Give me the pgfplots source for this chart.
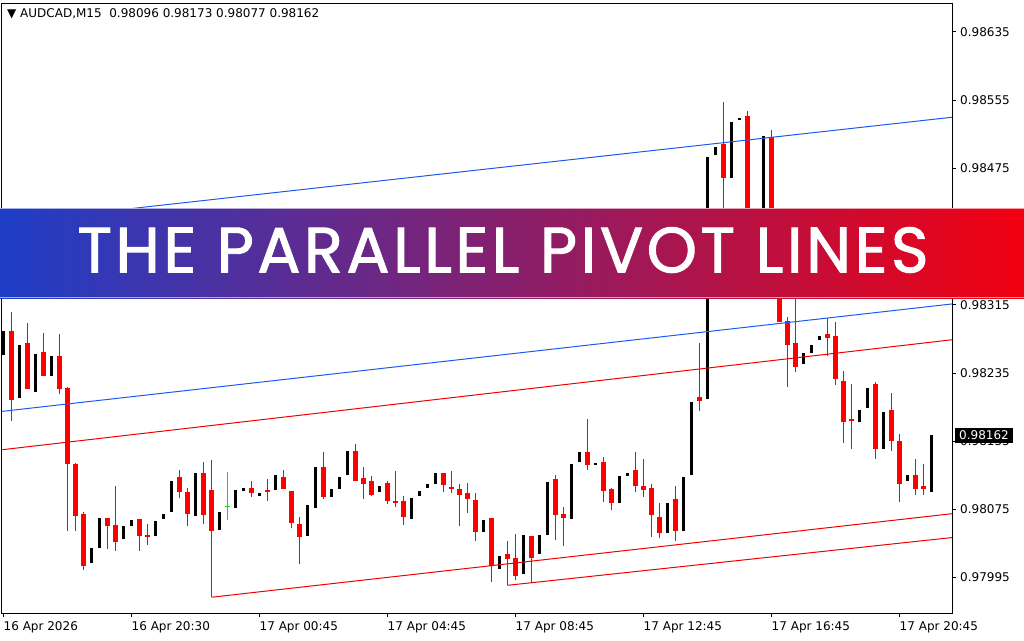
\documentclass[border=0pt]{standalone}
\usepackage{fontspec}
\setmainfont{DejaVu Sans}
\newfontfamily\bannerfont{Poppins}[UprightFeatures={FakeBold=1.5}, LetterSpace=5.5]
\usepackage{pgfplots}
\pgfplotsset{compat=1.18}
\usepackage{pgfplotstable}

\definecolor{bearred}{RGB}{255,0,0}
\definecolor{dojigreen}{RGB}{0,230,0}
\definecolor{pivblue}{RGB}{30,90,240}
\definecolor{pivred}{RGB}{240,0,0}
\definecolor{bannerL}{RGB}{30,62,200}
\definecolor{bannerR}{RGB}{242,0,16}

% AUDCAD M15, bar index i: open high low close
\pgfplotstableread{
i   o       h       l       c
0   0.98256 0.98284 0.98256 0.98284
2   0.98206 0.98268 0.98206 0.98268
4   0.98213 0.98257 0.98213 0.98257
6   0.98231 0.98255 0.98231 0.98255
11  0.98012 0.98030 0.98012 0.98030
12  0.98030 0.98065 0.98030 0.98065
15  0.98040 0.98056 0.98040 0.98056
16  0.98056 0.98063 0.98056 0.98063
19  0.98044 0.98061 0.98044 0.98061
20  0.98064 0.98070 0.98064 0.98070
21  0.98072 0.98108 0.98072 0.98108
24  0.98067 0.98118 0.98067 0.98118
27  0.98051 0.98072 0.98051 0.98072
29  0.98077 0.98098 0.98077 0.98098
30  0.98097 0.98100 0.98097 0.98100
32  0.98091 0.98094 0.98091 0.98094
34  0.98098 0.98115 0.98098 0.98115
38  0.98044 0.98080 0.98044 0.98080
39  0.98077 0.98125 0.98077 0.98125
41  0.98090 0.98099 0.98090 0.98099
42  0.98099 0.98113 0.98099 0.98113
43  0.98115 0.98144 0.98115 0.98144
47  0.98095 0.98102 0.98095 0.98102
51  0.98064 0.98088 0.98064 0.98088
52  0.98091 0.98097 0.98091 0.98097
53  0.98100 0.98105 0.98100 0.98105
54  0.98105 0.98118 0.98105 0.98118
60  0.98048 0.98063 0.98048 0.98063
62  0.98005 0.98020 0.98005 0.98020
65  0.97999 0.98045 0.97999 0.98045
67  0.98023 0.98045 0.98023 0.98045
68  0.98045 0.98107 0.98045 0.98107
71  0.98064 0.98128 0.98064 0.98128
72  0.98131 0.98142 0.98131 0.98142
74  0.98127 0.98129 0.98127 0.98129
77  0.98082 0.98114 0.98082 0.98114
78  0.98114 0.98118 0.98114 0.98118
83  0.98047 0.98082 0.98047 0.98082
85  0.98050 0.98113 0.98050 0.98113
86  0.98115 0.98201 0.98115 0.98201
88  0.98204 0.98488 0.98204 0.98488
89  0.98491 0.98500 0.98491 0.98500
91  0.98464 0.98529 0.98464 0.98529
92  0.98532 0.98534 0.98532 0.98534
94  0.98379 0.98400 0.98365 0.98391
95  0.98365 0.98513 0.98365 0.98513
100 0.98246 0.98258 0.98246 0.98258
101 0.98258 0.98268 0.98258 0.98268
102 0.98274 0.98278 0.98274 0.98278
107 0.98177 0.98192 0.98177 0.98192
108 0.98194 0.98217 0.98194 0.98217
110 0.98146 0.98189 0.98146 0.98189
113 0.98108 0.98115 0.98108 0.98115
116 0.98096 0.98173 0.98077 0.98162
}\bulls

\pgfplotstableread{
i   o       h       l       c
1   0.98284 0.98307 0.98179 0.98203
3   0.98270 0.98294 0.98216 0.98216
5   0.98260 0.98282 0.98231 0.98231
7   0.98255 0.98281 0.98210 0.98216
8   0.98217 0.98219 0.98050 0.98128
9   0.98128 0.98129 0.98050 0.98067
10  0.98070 0.98072 0.98004 0.98009
13  0.98065 0.98065 0.98029 0.98056
14  0.98057 0.98102 0.98026 0.98037
17  0.98064 0.98064 0.98026 0.98044
18  0.98045 0.98058 0.98033 0.98043
22  0.98113 0.98121 0.98088 0.98095
23  0.98095 0.98100 0.98056 0.98070
25  0.98118 0.98131 0.98058 0.98068
26  0.98098 0.98133 0.97972 0.98050
31  0.98100 0.98108 0.98090 0.98094
33  0.98098 0.98111 0.98085 0.98095
35  0.98113 0.98121 0.98099 0.98099
36  0.98097 0.98097 0.98053 0.98059
37  0.98058 0.98066 0.98011 0.98043
40  0.98125 0.98142 0.98087 0.98090
44  0.98144 0.98152 0.98108 0.98108
45  0.98112 0.98125 0.98087 0.98105
46  0.98108 0.98114 0.98091 0.98092
48  0.98106 0.98108 0.98081 0.98085
49  0.98085 0.98120 0.98078 0.98083
50  0.98085 0.98091 0.98057 0.98066
55  0.98118 0.98118 0.98095 0.98104
56  0.98101 0.98120 0.98094 0.98099
57  0.98099 0.98105 0.98056 0.98092
58  0.98094 0.98106 0.98071 0.98087
59  0.98086 0.98094 0.98038 0.98048
61  0.98065 0.98065 0.97990 0.98009
63  0.98023 0.98038 0.97986 0.98017
64  0.98018 0.98046 0.97992 0.97997
66  0.98044 0.98044 0.97989 0.98018
69  0.98111 0.98115 0.98039 0.98068
70  0.98070 0.98078 0.98032 0.98065
73  0.98142 0.98181 0.98121 0.98127
75  0.98131 0.98136 0.98084 0.98097
76  0.98099 0.98100 0.98074 0.98082
79  0.98121 0.98142 0.98095 0.98102
80  0.98102 0.98134 0.98090 0.98098
81  0.98100 0.98105 0.98043 0.98068
82  0.98066 0.98082 0.98041 0.98047
84  0.98087 0.98102 0.98038 0.98050
87  0.98207 0.98270 0.98190 0.98202
90  0.98504 0.98553 0.98414 0.98464
93  0.98536 0.98542 0.98370 0.98379
96  0.98512 0.98520 0.98335 0.98342
97  0.98344 0.98350 0.98295 0.98295
98  0.98296 0.98301 0.98219 0.98268
99  0.98270 0.98344 0.98236 0.98242
103 0.98281 0.98300 0.98255 0.98276
104 0.98278 0.98295 0.98221 0.98228
105 0.98226 0.98237 0.98153 0.98178
106 0.98181 0.98222 0.98146 0.98179
109 0.98222 0.98224 0.98134 0.98146
111 0.98192 0.98211 0.98144 0.98155
112 0.98155 0.98163 0.98084 0.98105
114 0.98115 0.98134 0.98092 0.98099
115 0.98102 0.98128 0.98092 0.98099
}\bears

\pgfplotstableread{
i   o       h       l       c
28  0.98079 0.98119 0.98063 0.98079
}\dojis

\begin{document}
\begin{tikzpicture}
\path[use as bounding box] (0,0) rectangle (1024pt,-640pt);
\fill[white] (0,0) rectangle (1024pt,-640pt);
\begin{axis}[
  at={(2pt,-613pt)}, anchor=south west,
  scale only axis, width=950pt, height=610pt,
  xmin=-0.19, xmax=118.56,
  ymin=0.979535, ymax=0.98669,
  clip mode=individual,
  axis line style={black, line width=1pt},
  tick align=outside, major tick length=4pt,
  tick style={black, line width=1pt},
  xtick pos=left, xticklabel pos=left,
  ytick pos=right, yticklabel pos=right,
  xtick={0,16,...,112},
  xticklabels={16 Apr 2026, 16 Apr 20:30, 17 Apr 00:45, 17 Apr 04:45,
               17 Apr 08:45, 17 Apr 12:45, 17 Apr 16:45, 17 Apr 20:45},
  ytick={0.97995,0.98075,0.98155,0.98235,0.98315,0.98395,0.98475,0.98555,0.98635},
  yticklabels={0.97995,0.98075,0.98155,0.98235,0.98315,0.98395,0.98475,0.98555,0.98635},
  tick label style={font=\fontsize{12}{14}\selectfont, inner sep=0pt},
  xticklabel style={anchor=north west},
  yticklabel style={anchor=west},
  xticklabel shift=4pt,
  yticklabel shift=4pt,
  error bars/y dir=plus, error bars/y explicit, error bars/error mark=none,
]
% wicks
\addplot[draw=none, error bars/error bar style={draw=white, line width=1pt}]
  table[x=i, y=l, y error plus expr=\thisrow{h}-\thisrow{l}] {\bulls};
\addplot[draw=none, error bars/error bar style={draw=bearred, line width=1pt}]
  table[x=i, y=l, y error plus expr=\thisrow{h}-\thisrow{l}] {\bears};
\addplot[draw=none, error bars/error bar style={draw=dojigreen, line width=1pt}]
  table[x=i, y=l, y error plus expr=\thisrow{h}-\thisrow{l}] {\dojis};
% bodies
\addplot[draw=none, error bars/error bar style={draw=black, line width=3pt}]
  table[x=i, y=o, y error plus expr=\thisrow{c}-\thisrow{o}] {\bulls};
\addplot[draw=none, error bars/error bar style={draw=bearred, line width=5pt}]
  table[x=i, y=c, y error plus expr=\thisrow{o}-\thisrow{c}] {\bears};
\addplot[only marks, mark=-, mark size=2.5pt, dojigreen, line width=1pt]
  table[x=i, y=o] {\dojis};
% parallel pivot lines
\addplot[pivblue, line width=1pt] coordinates {(-0.19,0.98411) (118.56,0.98535)};
\addplot[pivblue, line width=1pt] coordinates {(-0.19,0.98190) (118.56,0.98316)};
\addplot[pivred, line width=1pt] coordinates {(-0.19,0.98145) (118.56,0.98274)};
\addplot[pivred, line width=1pt] coordinates {(26,0.97972) (118.56,0.98070)};
\addplot[pivred, line width=1pt] coordinates {(63,0.97986) (118.56,0.98042)};
% current price
\node[fill=black, text=white, anchor=west, xshift=3pt, inner xsep=4pt, inner ysep=3pt,
      font=\fontsize{12}{14}\selectfont] at (axis cs:118.56,0.98162) {0.98162};
\end{axis}
\node[anchor=west, inner sep=0pt, font=\fontsize{12}{14}\selectfont]
  at (7pt,-13.5pt) {▼\ AUDCAD,M15\ \ 0.98096 0.98173 0.98077 0.98162};
\shade[left color=bannerL, right color=bannerR] (0,-208pt) rectangle (1024pt,-298pt);
\draw[white, opacity=0.6, line width=1pt] (0,-208.5pt) -- (1024pt,-208.5pt);
\draw[white, opacity=0.6, line width=1pt] (0,-297.5pt) -- (1024pt,-297.5pt);
\node[text=white, inner sep=0pt, font=\bannerfont\fontsize{64}{70}\selectfont]
  at (503pt,-250pt) {THE PARALLEL PIVOT LINES};
\end{tikzpicture}
\end{document}
